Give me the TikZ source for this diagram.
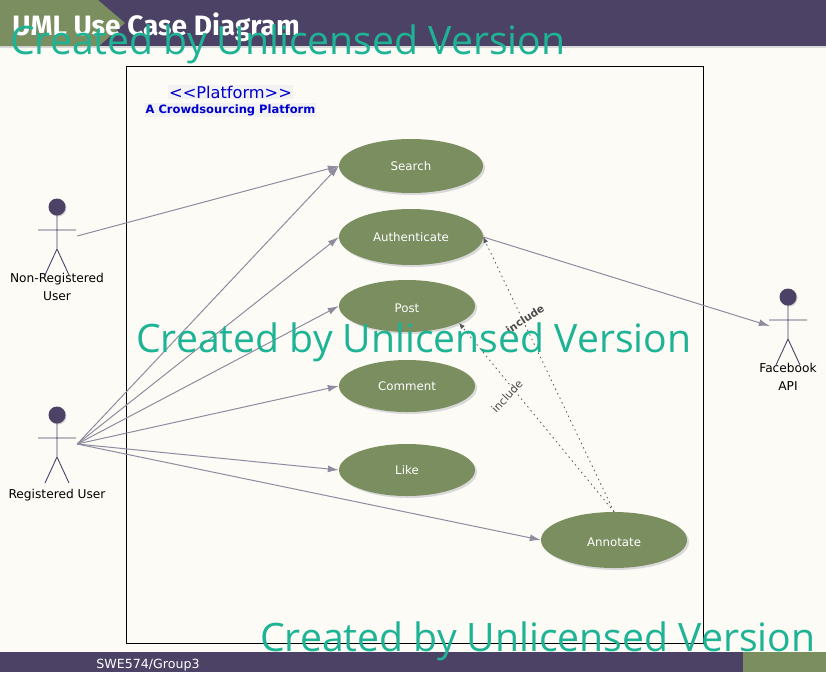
\documentclass[tikz,border=0pt]{standalone}
\usepackage{fontspec}
\usepackage{xcolor}
\setmainfont{Carlito}
\newfontfamily\wmfont{Open Sans}
\newfontfamily\titlefont{Fira Sans}
\newfontfamily\labelfont{DejaVu Sans}
\usetikzlibrary{shapes.geometric,arrows.meta,positioning,calc}
\definecolor{paperbg}{HTML}{FCFBF6}
\definecolor{barpurple}{HTML}{4B4266}
\definecolor{leafgreen}{HTML}{7A8E60}
\definecolor{wmteal}{HTML}{1DB394}
\definecolor{linkgrey}{HTML}{8E8C9E}
\definecolor{capblue}{HTML}{0000CC}
\tikzset{
    usecase/.style={ellipse, fill=leafgreen, inner sep=0pt, text=white, font=\labelfont\fontsize{11.8}{13}\selectfont},
    actorbox/.style={minimum width=40pt, minimum height=30pt, inner sep=0pt},
    actorname/.style={align=center, inner sep=0pt, font=\labelfont\fontsize{12.2}{18}\selectfont},
    assoc/.style={draw=linkgrey, line width=1pt, -{Latex[length=11pt,width=7pt,fill=linkgrey]}},
    incl/.style={draw=black!65, line width=0.8pt, dash pattern=on 1.5pt off 3.5pt, -{Latex[length=6pt,width=5pt,fill=black!65]}},
    wmark/.style={text=wmteal, inner sep=0pt, font=\wmfont\fontsize{39.15}{42}\selectfont}
}
\begin{document}
\begin{tikzpicture}[x=1pt, y=-1pt]
    \useasboundingbox (0,0) rectangle (826,672);
    \fill[paperbg] (0,0) rectangle (826,672);

    % header and footer
    \fill[black!15] (0,46) rectangle (826,48);
    \fill[barpurple] (0,0) rectangle (826,46);
    \fill[leafgreen] (0,0) -- (98,0) -- (125,23) -- (99,46) -- (0,46) -- cycle;
    \fill[barpurple] (0,652) rectangle (826,672);
    \fill[leafgreen] (743,652) rectangle (826,672);
    \node[text=white, inner sep=0pt, font=\titlefont\bfseries\fontsize{28}{31}\selectfont] (title) at (156,27) {UML Use Case Diagram};
    \node[text=white, inner sep=0pt, font=\labelfont\fontsize{12.6}{14}\selectfont] (group) at (148,665) {SWE574/Group3};

    % system boundary
    \node[draw=black, line width=0.9pt, minimum width=576.5pt, minimum height=577pt, inner sep=0pt] (platform) at (415,355) {};
    \node[fill=blue!5!black!5, text=capblue, inner sep=1pt, font=\labelfont\fontsize{16.2}{18}\selectfont] (stereo) at (230.5,92) {<{}<Platform>{}>};
    \node[fill=blue!5!black!5, text=capblue, inner sep=1pt, font=\labelfont\bfseries\fontsize{11.5}{13}\selectfont] (sysname) at (230.5,110) {A Crowdsourcing Platform};

    % use cases
    \foreach \x/\y/\rx/\ry in {411/166/72/27, 411/237/72/28, 407/306/68/26, 407/386/68/26, 407/470/68/26, 614/540/73/28}
        \fill[black!15] (\x+2,\y+2) ellipse [x radius=\rx, y radius=\ry];
    \node[usecase, minimum width=144pt, minimum height=54pt] (search) at (411,166) {Search};
    \node[usecase, minimum width=144pt, minimum height=56pt] (auth) at (411,237) {Authenticate};
    \node[usecase, minimum width=136pt, minimum height=52pt, text height=12pt, text depth=0pt] (post) at (407,306) {Post};
    \node[usecase, minimum width=136pt, minimum height=52pt] (comment) at (407,386) {Comment};
    \node[usecase, minimum width=136pt, minimum height=52pt] (like) at (407,470) {Like};
    \node[usecase, minimum width=146pt, minimum height=56pt, text height=12pt, text depth=0pt] (annotate) at (614,540) {Annotate};

    % actors
    \node[actorbox] (nonreg) at (57,236) {};
    \node[actorbox] (regd) at (57,444) {};
    \node[actorbox, minimum width=36pt] (fbapi) at (788,326) {};
    \foreach \who in {nonreg,regd,fbapi} {
        \fill[black!20, shift={(\who.center)}] (1,-28) circle (8.5);
        \fill[barpurple, shift={(\who.center)}] (0,-29) circle (8.5);
        \draw[barpurple, line width=0.9pt, shift={(\who.center)}] (0,-29) -- (0,13) (-19,-6) -- (19,-6) (-12,39) -- (0,13) -- (12,39);
    }
    \node[actorname] (nonregname) at (57,287) {Non-Registered\\User};
    \node[actorname] (regdname) at (57,495) {Registered User};
    \node[actorname] (fbapiname) at (788,377) {Facebook\\API};

    % links
    \draw[assoc] (nonreg.east) -- (search.west);
    \draw[assoc] (regd.east) -- (search.west);
    \draw[assoc] (regd.east) -- (auth.west);
    \draw[assoc] (regd.east) -- (post.west);
    \draw[assoc] (regd.east) -- (comment.west);
    \draw[assoc] (regd.east) -- (like.west);
    \draw[assoc] (regd.east) -- (annotate.west);
    \draw[assoc] (auth.east) -- (fbapi.west);
    \draw[incl] (annotate.north) -- (auth.east);
    \draw[incl] (annotate.north) -- (post.-18);
    \node[rotate=33, text=black!70, inner sep=0pt, font=\labelfont\bfseries\fontsize{10.5}{12}\selectfont] (incla) at (525,319) {include};
    \node[rotate=47, text=black!70, inner sep=0pt, font=\labelfont\fontsize{11}{12}\selectfont] (inclb) at (507,396) {include};

    % watermark
    \node[wmark, anchor=west] (wma) at (10,44) {Created by Unlicensed Version};
    \node[wmark, anchor=west] (wmb) at (136,342) {Created by Unlicensed Version};
    \node[wmark, anchor=west] (wmc) at (260,641) {Created by Unlicensed Version};
\end{tikzpicture}
\end{document}
